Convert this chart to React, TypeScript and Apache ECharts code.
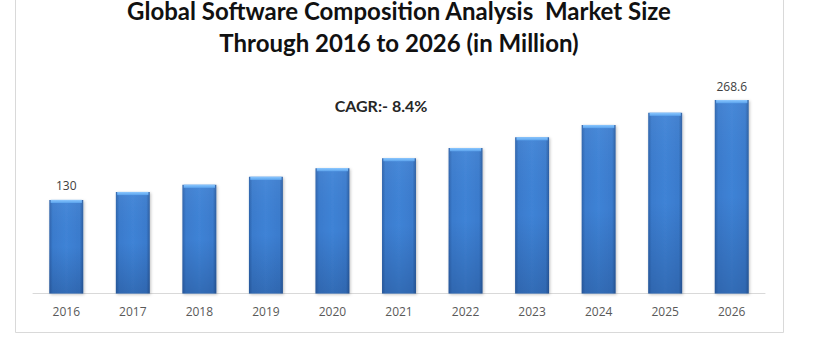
import React, { useEffect, useRef } from "react";
import * as echarts from "echarts";

const years = ["2016", "2017", "2018", "2019", "2020", "2021", "2022", "2023", "2024", "2025", "2026"];
const marketSize = [130, 141, 151, 162, 174, 188, 202, 217, 234, 251, 268.6];
const labelledIndexes = [0, 10];
const titleLines = ["Global Software Composition Analysis  Market Size", "Through 2016 to 2026 (in Million)"];
const cagrText = "CAGR:- 8.4%";

export default function App() {
  const ref = useRef<HTMLDivElement>(null);
  useEffect(() => {
    if (!ref.current) return;
    const chart = echarts.init(ref.current, undefined, { renderer: "svg" });
    const barGradient = new echarts.graphic.LinearGradient(0, 0, 1, 0, [
      { offset: 0, color: "#2c62aa" },
      { offset: 0.1, color: "#3a7bcd" },
      { offset: 0.5, color: "#3f83d6" },
      { offset: 0.9, color: "#3a7bcd" },
      { offset: 1, color: "#2a5c9f" },
    ]);
    const shadeGradient = new echarts.graphic.LinearGradient(0, 0, 0, 1, [
      { offset: 0, color: "rgba(255,255,255,0.05)" },
      { offset: 0.5, color: "rgba(20,50,100,0)" },
      { offset: 1, color: "rgba(20,50,100,0.28)" },
    ]);
    const capGradient = new echarts.graphic.LinearGradient(0, 0, 0, 1, [
      { offset: 0, color: "#8cc8ff" },
      { offset: 1, color: "#5aa2ec" },
    ]);
    chart.setOption({
      animation: false,
      grid: { left: 33, right: 55, top: 77.5, bottom: 56.5 },
      xAxis: {
        type: "category",
        data: years,
        axisLine: { lineStyle: { color: "#d9d9d9", width: 1 } },
        axisTick: { show: false },
        axisLabel: { color: "#595959", fontFamily: "Open Sans", fontSize: 12, margin: 12 },
      },
      yAxis: { type: "value", min: 0, max: 300, show: false, splitLine: { show: false } },
      series: [
        {
          type: "bar",
          data: marketSize,
          barWidth: "51%",
          itemStyle: {
            color: barGradient,
            shadowColor: "rgba(0,0,0,0.25)",
            shadowBlur: 3,
            shadowOffsetX: 1,
            shadowOffsetY: 1,
          },
          label: {
            show: true,
            position: "top",
            distance: 8,
            color: "#404040",
            fontFamily: "Open Sans",
            fontSize: 12,
            formatter: (p: any) => (labelledIndexes.includes(p.dataIndex) ? String(p.value) : ""),
          },
        },
        {
          type: "bar",
          data: marketSize,
          barWidth: "51%",
          barGap: "-100%",
          silent: true,
          itemStyle: { color: shadeGradient },
        },
        {
          type: "pictorialBar",
          data: marketSize,
          barWidth: "51%",
          barGap: "-100%",
          symbol: "rect",
          symbolPosition: "end",
          symbolSize: ["92%", 3],
          silent: true,
          z: 3,
          itemStyle: { color: capGradient },
        },
      ],
      graphic: [
        {
          type: "rect",
          shape: { x: 15.5, y: -5, width: 768, height: 337.5 },
          style: { fill: "none", stroke: "#d9d9d9", lineWidth: 1 },
          silent: true,
        },
        {
          type: "text",
          x: 399,
          y: 10,
          style: {
            text: titleLines[0],
            textAlign: "center",
            textVerticalAlign: "middle",
            font: "bold 24px Lato",
            fill: "#111111",
          },
        },
        {
          type: "text",
          x: 399,
          y: 42,
          style: {
            text: titleLines[1],
            textAlign: "center",
            textVerticalAlign: "middle",
            font: "bold 24px Lato",
            fill: "#111111",
          },
        },
        {
          type: "text",
          x: 381,
          y: 105,
          style: {
            text: cagrText,
            textAlign: "center",
            textVerticalAlign: "middle",
            font: "bold 16px Lato",
            fill: "#262626",
          },
        },
      ],
    });
    return () => chart.dispose();
  }, []);
  return <div ref={ref} style={{ position: "absolute", left: 0, top: 0, width: 820, height: 350 }} />;
}
